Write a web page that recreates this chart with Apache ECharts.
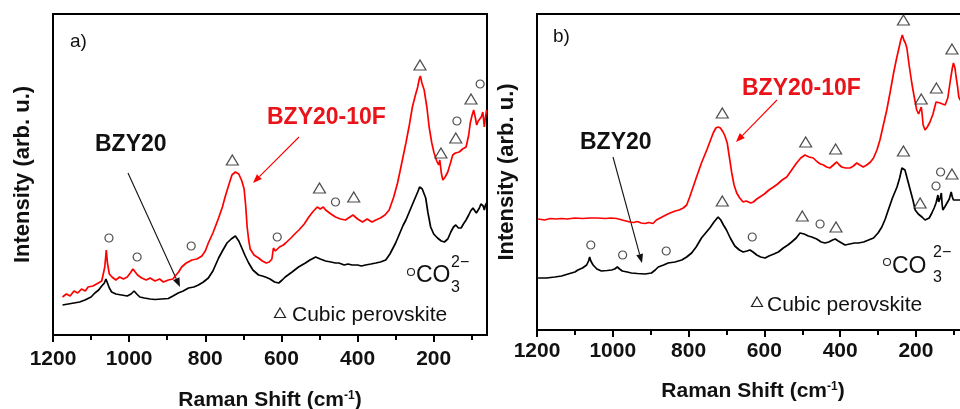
<!DOCTYPE html>
<html>
<head>
<meta charset="utf-8">
<script src="https://cdn.jsdelivr.net/npm/echarts@6/dist/echarts.min.js"></script>
<style>
  html, body { margin: 0; padding: 0; background: #fff; }
  #chart { width: 960px; height: 409px; }
</style>
</head>
<body>
<div id="chart"></div>
<script>
// [raman shift (cm-1), intensity (a.u.)]
const bzy20A = [[1175,30],[1160,31],[1145,32],[1130,33],[1116,35],[1100,38],[1090,42],[1080,45],[1072,49],[1065,52],[1061,56],[1057,52],[1052,47],[1046,43],[1035,41],[1020,40],[1005,39],[995,41],[987,44],[980,41],[972,38],[960,37],[945,36],[932,35.5],[915,36],[897,36.5],[885,39],[871,42],[858,44],[844,47],[830,48],[818,50],[805,53],[792,57],[780,64],[765,77],[755,84],[743,92],[732,96],[721,99],[712,94],[704,87],[695,79],[686,72],[675,65],[660,60],[650,59],[642,58],[630,56],[618,53],[607,52],[598,55],[590,58],[572,63],[555,68],[537,72],[525,75],[510,78],[498,76],[484,74],[470,73],[458,72],[449,72],[435,70],[425,71],[414,70],[400,70],[390,69],[379,70],[365,71],[352,72],[340,73],[326,75],[315,81],[300,92],[290,101],[280,110],[273,115],[262,125],[251,135],[242,143],[237,148],[234,150],[230,146],[225,141],[221,137],[215,122],[208,108],[200,101],[190,97],[180,94],[172,93],[163,96],[155,103],[148,108],[142,110],[135,107],[128,107],[122,111],[115,115],[108,120],[103,124],[97,127],[92,125],[88,122],[84,122],[80,127],[76,131],[73,133],[70,129],[67,125],[64,130],[61,132]];
const bzy20fA = [[1175,38],[1165,41],[1155,39],[1145,44],[1135,42],[1125,46],[1115,44],[1108,48],[1095,49],[1081,52],[1072,54],[1064,68],[1060,85],[1057,72],[1052,61],[1045,58],[1035,55],[1025,58],[1015,56],[1005,58],[997,62],[990,66],[985,64],[978,60],[967,57],[955,55],[945,57],[932,54],[920,56],[910,53],[897,55],[885,56],[879,59],[870,63],[862,68],[850,72],[835,75],[822,76],[809,79],[800,84],[792,92],[780,102],[765,117],[755,128],[748,138],[740,148],[730,160],[721,163],[712,161],[704,154],[698,146],[694,130],[690,108],[686,95],[682,86],[672,80],[660,77],[650,74],[640,72],[632,73],[625,76],[621,87],[616,84],[605,88],[595,90],[589,92],[575,97],[565,101],[554,105],[540,111],[528,118],[518,123],[506,128],[498,126],[490,128],[484,125],[470,121],[458,118],[445,116],[432,115],[420,118],[412,120],[400,116],[387,113],[375,116],[362,113],[352,115],[340,117],[328,120],[317,125],[305,138],[295,152],[285,170],[273,192],[264,210],[256,228],[248,240],[242,248],[238,256],[235,259],[231,252],[225,245],[218,228],[212,208],[205,192],[199,182],[192,174],[187,170],[184,175],[180,162],[176,155],[170,158],[163,163],[156,172],[150,180],[143,182],[133,183],[124,186],[115,188],[108,200],[104,212],[99,220],[95,225],[91,218],[87,210],[83,214],[80,213],[75,218],[71,223],[67,208],[64,218],[61,225]];
const bzy20B = [[1197,52],[1175,52],[1153,53],[1135,54],[1118,56],[1100,58],[1092,60],[1080,62],[1069,65],[1064,69],[1061,73],[1058,69],[1052,65],[1042,61],[1030,59],[1015,59.5],[1003,60],[995,61],[988,63],[982,61],[975,59],[962,58],[951,57],[935,56.5],[915,56],[898,57],[888,60],[880,63],[866,65],[854,67],[836,68],[818,70],[805,73],[792,77],[780,83],[766,92],[755,97],[744,102],[733,108],[722,113],[715,110],[708,105],[700,100],[690,92],[678,84],[666,80],[656,78],[646,79],[638,80],[630,78],[620,75],[610,73],[598,72],[588,74],[575,76],[563,78],[550,82],[538,85],[528,88],[516,92],[506,97],[495,96],[484,94],[475,93],[462,91],[450,88],[440,87],[430,88],[420,90],[413,91],[405,89],[396,87],[387,85],[375,86],[362,87],[352,87],[338,88],[325,90],[312,92],[300,97],[290,103],[281,111],[273,120],[262,132],[250,143],[243,152],[237,162],[233,161],[229,160],[222,150],[215,140],[208,130],[202,120],[194,116],[184,113],[176,110],[171,108],[165,112],[158,117],[152,122],[147,127],[144,129],[142,135],[140,128],[138,127],[136,132],[133,137],[131,126],[129,120],[124,123],[118,127],[112,131],[107,138],[104,133],[101,130],[92,130],[83,130],[70,129],[62,128]];
const bzy20fB = [[1197,111],[1180,110],[1165,111.5],[1150,111],[1135,111.5],[1120,111],[1100,112],[1080,111.5],[1061,112],[1040,112],[1020,111.5],[1005,112],[990,111.5],[975,110],[965,109],[955,108],[945,107.5],[935,108.5],[925,107],[915,106.5],[905,107.5],[894,106.5],[885,110],[870,113],[860,115],[849,117],[835,119],[825,120],[814,122],[805,125],[797,133],[788,143],[779,153],[766,167],[752,180],[744,188],[735,197],[728,202],[722,203],[716,202],[709,198],[704,194],[698,187],[692,172],[686,157],[680,145],[673,137],[665,132],[656,128],[648,129],[643,130],[636,127],[629,128],[620,131],[612,133],[600,136],[588,140],[576,143],[565,146],[553,150],[541,153],[528,160],[515,167],[504,172],[493,175],[482,173],[471,172],[460,168],[452,166],[444,165],[436,163],[427,162],[418,165],[409,168],[402,165],[396,163],[386,162],[374,162],[365,164],[356,167],[348,165],[339,163],[330,165],[320,168],[312,172],[303,180],[295,190],[286,205],[277,220],[268,238],[259,257],[252,270],[246,280],[240,290],[236,295],[232,290],[228,287],[224,282],[218,265],[211,247],[204,232],[198,220],[193,216],[189,215],[186,223],[184,217],[181,205],[176,200],[170,203],[163,208],[155,216],[147,228],[142,230],[136,227],[130,226],[123,225],[116,232],[109,250],[104,262],[101,267],[97,262],[94,253],[90,243],[87,233],[83,230],[78,229],[70,225],[62,224]];

// peak assignment markers
const carbonateA = [[1053,97],[979,78],[837,89],[611,98],[458,133],[139,214],[78,251]];
const perovskiteA = [[729,175],[500,147],[410,138],[236,270],[181,182],[142,197],[102,236]];
const carbonateB = [[1058,85],[974,75],[859,79],[632,93],[453,106],[147,144],[135,158]];
const perovskiteB = [[711,217],[491,188],[412,181],[233,310],[186,231],[146,242],[105,281],[711,129],[500,114],[411,103],[233,179],[189,127],[105,156]];

const majorTicks = [200, 400, 600, 800, 1000, 1200];
const minorTicks = [100, 300, 500, 700, 900, 1100];

const FONT = '"Liberation Sans", Arial, sans-serif';
const RED = '#ff0000';
const INK = '#111';

const chart = echarts.init(document.getElementById('chart'), null, { renderer: 'canvas' });

function xAxes(gridIndex, labelMargin, nameGap) {
  const base = {
    gridIndex: gridIndex,
    type: 'value',
    inverse: true,
    min: 60,
    max: 1200,
    splitLine: { show: false },
    axisLine: { show: true, onZero: false, lineStyle: { color: '#000', width: 2 } }
  };
  return [
    Object.assign({}, base, {
      position: 'bottom',
      axisTick: { show: true, length: 7, customValues: majorTicks, lineStyle: { color: '#000', width: 2 } },
      axisLabel: {
        customValues: majorTicks, margin: labelMargin,
        formatter: function (v) { return String(v); },
        color: INK, fontFamily: FONT, fontWeight: 'bold', fontSize: 21
      },
      name: 'Raman Shift (cm{sup|-1})',
      nameLocation: 'middle',
      nameGap: nameGap,
      nameTextStyle: {
        color: INK, fontFamily: FONT, fontWeight: 'bold', fontSize: 21,
        rich: { sup: { fontFamily: FONT, fontWeight: 'bold', fontSize: 12, verticalAlign: 'top', color: INK, padding: [0, 0, 8, 0] } }
      }
    }),
    Object.assign({}, base, {
      position: 'bottom',
      axisLine: { show: false },
      axisTick: { show: true, length: 5, customValues: minorTicks, lineStyle: { color: '#000', width: 2 } },
      axisLabel: { show: false }
    })
  ];
}

function yAxis(gridIndex, max) {
  return {
    gridIndex: gridIndex,
    type: 'value',
    min: 0,
    max: max,
    axisLine: { show: false },
    axisTick: { show: false },
    axisLabel: { show: false },
    splitLine: { show: false },
    name: 'Intensity (arb. u.)',
    nameLocation: 'middle',
    nameGap: 19,
    nameTextStyle: { color: INK, fontFamily: FONT, fontWeight: 'bold', fontSize: 22 }
  };
}

function spectrum(data, color, xi, yi) {
  return {
    type: 'line', data: data, xAxisIndex: xi, yAxisIndex: yi,
    showSymbol: false, smooth: false, silent: true,
    lineStyle: { color: color, width: 1.7 }, z: 2
  };
}

function markers(data, symbol, size, xi, yi) {
  return {
    type: 'scatter', data: data, xAxisIndex: xi, yAxisIndex: yi,
    symbol: symbol, symbolSize: size, clip: false, silent: true,
    itemStyle: { color: '#fff', borderColor: '#222', borderWidth: 1.2 }, z: 3
  };
}

function arrow(x1, y1, x2, y2, color) {
  const a = Math.atan2(y2 - y1, x2 - x1);
  const L = 9, W = 3.5;
  const bx = x2 - L * Math.cos(a), by = y2 - L * Math.sin(a);
  return [
    { type: 'line', shape: { x1: x1, y1: y1, x2: bx, y2: by }, style: { stroke: color, lineWidth: 1.1 } },
    { type: 'polygon', shape: { points: [[x2, y2], [bx + W * Math.sin(a), by - W * Math.cos(a)], [bx - W * Math.sin(a), by + W * Math.cos(a)]] }, style: { fill: color } }
  ];
}

function text(x, y, str, size, opts) {
  return {
    type: 'text', x: x, y: y,
    style: Object.assign({ text: str, fontFamily: FONT, fontSize: size, fill: INK, verticalAlign: 'middle', align: 'left' }, opts || {})
  };
}

function tri(cx, cy) {
  return { type: 'polygon', shape: { points: [[cx, cy - 5], [cx + 5.5, cy + 4.5], [cx - 5.5, cy + 4.5]] }, style: { fill: '#fff', stroke: '#222', lineWidth: 1.2 } };
}

function ring(cx, cy) {
  return { type: 'circle', shape: { cx: cx, cy: cy, r: 3.5 }, style: { fill: '#fff', stroke: '#222', lineWidth: 1.1 } };
}

const graphics = [].concat(
  [
    text(70, 42, 'a)', 19),
    text(95, 145, 'BZY20', 23, { fontWeight: 'bold' }),
    text(267, 118, 'BZY20-10F', 23, { fontWeight: 'bold', fill: '#e8141a' }),
    ring(411, 272),
    text(416, 276, 'CO', 23),
    text(451, 263, '2\u2212', 16),
    text(451, 288, '3', 16),
    tri(280, 313),
    text(292, 315, 'Cubic perovskite', 21),

    text(553, 37, 'b)', 19),
    text(580, 143, 'BZY20', 23, { fontWeight: 'bold' }),
    text(742, 89, 'BZY20-10F', 23, { fontWeight: 'bold', fill: '#e8141a' }),
    ring(887, 262),
    text(892, 267, 'CO', 23),
    text(933, 253, '2\u2212', 16),
    text(933, 278, '3', 16),
    tri(757, 302),
    text(767, 305, 'Cubic perovskite', 21)
  ],
  arrow(128, 173, 180, 287, '#111'),
  arrow(299, 137, 253, 183, RED),
  arrow(613, 157, 642, 263, '#111'),
  arrow(777, 100, 736, 142, RED)
);

const option = {
  animation: false,
  backgroundColor: '#fff',
  grid: [
    { left: 53, top: 14, width: 434, height: 321, outerBoundsMode: 'none', containLabel: false, show: true, borderColor: '#000', borderWidth: 2, backgroundColor: 'transparent' },
    { left: 537, top: 14, width: 432, height: 316, outerBoundsMode: 'none', containLabel: false, show: true, borderColor: '#000', borderWidth: 2, backgroundColor: 'transparent' }
  ],
  xAxis: [].concat(xAxes(0, 14, 55), xAxes(1, 11, 51)),
  yAxis: [yAxis(0, 321), yAxis(1, 316)],
  series: [
    spectrum(bzy20A, '#000', 0, 0),
    spectrum(bzy20fA, RED, 0, 0),
    markers(carbonateA, 'circle', 8, 0, 0),
    markers(perovskiteA, 'triangle', [12, 10], 0, 0),
    spectrum(bzy20B, '#000', 2, 1),
    spectrum(bzy20fB, RED, 2, 1),
    markers(carbonateB, 'circle', 8, 2, 1),
    markers(perovskiteB, 'triangle', [12, 10], 2, 1)
  ],
  graphic: graphics
};

chart.setOption(option);
</script>
</body>
</html>
